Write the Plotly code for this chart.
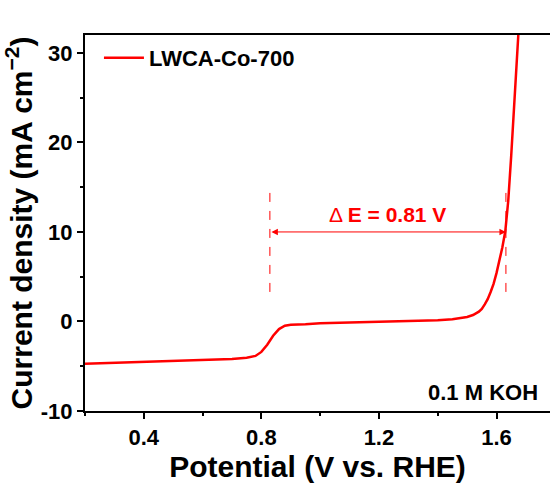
import plotly.graph_objects as go

# Data (LSV curve)
potential = [0.20, 0.30, 0.40, 0.50, 0.60, 0.70, 0.75, 0.78, 0.80, 0.82, 0.84,
             0.86, 0.88, 0.90, 0.95, 1.00, 1.10, 1.20, 1.30, 1.40, 1.45, 1.50,
             1.52, 1.54, 1.55, 1.56, 1.57, 1.58, 1.59, 1.60, 1.61, 1.62, 1.63,
             1.64, 1.65, 1.66, 1.67, 1.676]
current = [-4.72, -4.62, -4.52, -4.42, -4.32, -4.18, -4.05, -3.85, -3.4, -2.6,
           -1.6, -0.85, -0.48, -0.36, -0.3, -0.2, -0.12, -0.06, 0.04, 0.15,
           0.25, 0.5, 0.72, 1.1, 1.4, 1.9, 2.5, 3.3, 4.2, 5.4, 6.8, 8.3, 10.1,
           13.5, 18.5, 23.5, 29.0, 33.0]

series_name = "LWCA-Co-700"
x_ticks = [0.4, 0.8, 1.2, 1.6]
y_ticks = [-10, 0, 10, 20, 30]
x_range = [0.2, 1.782]
y_range = [-10, 32]

# Delta E annotation values
e_left = 0.829
e_right = 1.632
e_level = 10
dash_low, dash_high = 3.3, 15.2
delta_label = "Δ <b>E = 0.81 V</b>"
electrolyte = "0.1 M KOH"

RED = "#ff0000"
FONT = "Liberation Sans, Arial, sans-serif"

fig = go.Figure()
fig.add_trace(go.Scatter(x=potential, y=current, mode="lines", name=series_name,
                         line=dict(color=RED, width=2.5), cliponaxis=True))

for xv in (e_left, e_right):
    fig.add_shape(type="line", x0=xv, x1=xv, y0=dash_low, y1=dash_high,
                  xref="x", yref="y", line=dict(color=RED, width=1, dash="dash"))

fig.add_annotation(x=e_right, y=e_level, ax=e_left, ay=e_level, xref="x", yref="y",
                   axref="x", ayref="y", text="", showarrow=True,
                   arrowhead=2, startarrowhead=2, arrowside="end+start",
                   arrowsize=1.3, startarrowsize=1.3, arrowwidth=1, arrowcolor=RED)
fig.add_annotation(x=(e_left + e_right) / 2, y=e_level + 1.9, xref="x", yref="y",
                   text=delta_label, showarrow=False,
                   font=dict(color=RED, size=21, family=FONT))
fig.add_annotation(x=0.978, y=0.05, xref="paper", yref="paper", xanchor="right",
                   yanchor="middle", text="<b>" + electrolyte + "</b>", showarrow=False,
                   font=dict(color="black", size=22, family=FONT))

fig.update_layout(
    width=550, height=486,
    margin=dict(l=85, r=0, t=35, b=75),
    paper_bgcolor="white", plot_bgcolor="white",
    font=dict(family=FONT, color="black"),
    showlegend=True,
    legend=dict(x=0.03, y=0.995, xanchor="left", yanchor="top",
                bgcolor="rgba(0,0,0,0)",
                font=dict(size=22, family=FONT, weight="bold"),
                itemwidth=40, tracegroupgap=0),
)
fig.update_xaxes(range=x_range, tickvals=x_ticks,
                 ticktext=["<b>%.1f</b>" % v for v in x_ticks],
                 showgrid=False, zeroline=False, showline=True, linecolor="black",
                 linewidth=2, mirror=True, ticks="outside", ticklen=6, tickwidth=2,
                 tickcolor="black", tickfont=dict(size=22, family=FONT),
                 minor=dict(dtick=0.2, tick0=0.2, ticks="outside", ticklen=3,
                            tickwidth=2, tickcolor="black", showgrid=False),
                 automargin=False,
                 title=dict(text="<b>Potential (V vs. RHE)</b>",
                            font=dict(size=30, family=FONT), standoff=0))
fig.update_yaxes(range=y_range, tickvals=y_ticks,
                 ticktext=["<b>%d</b>" % v for v in y_ticks],
                 showgrid=False, zeroline=False, showline=True, linecolor="black",
                 linewidth=2, ticks="outside", ticklen=6, tickwidth=2,
                 tickcolor="black", tickfont=dict(size=22, family=FONT),
                 minor=dict(dtick=5, tick0=-10, ticks="outside", ticklen=3,
                            tickwidth=2, tickcolor="black", showgrid=False),
                 automargin=False,
                 title=dict(text="<b>Current density (mA cm<sup>−2</sup>)</b>",
                            font=dict(size=30, family=FONT), standoff=0))

fig.write_html("out.html")
